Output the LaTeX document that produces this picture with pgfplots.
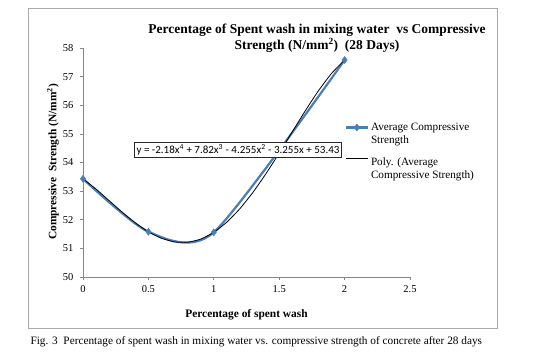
\documentclass[border=0pt]{standalone}
\usepackage{fontspec}
\setmainfont{Liberation Serif}
\newfontfamily\calibri{Carlito}
\usepackage{pgfplots}
\pgfplotsset{compat=1.18}
\definecolor{xlblue}{RGB}{74,126,187}
\definecolor{axgray}{RGB}{134,134,134}
\definecolor{framegray}{RGB}{170,170,170}
\begin{document}
\begin{tikzpicture}[x=1pt,y=1pt]
\path[use as bounding box] (0,0) rectangle (533,359);
\draw[framegray, line width=0.9pt] (28,31) rectangle (497,351);
\node[font=\bfseries\fontsize{13.5}{16}\selectfont, align=center] at (317,321)
  {Percentage of Spent wash in mixing water\ \ vs Compressive\\Strength (N/mm\textsuperscript{2})\ \ (28 Days)};
\node[anchor=west, font=\fontsize{11.3}{13}\selectfont] at (27,17)
  {Fig. 3\ \ Percentage of spent wash in mixing water vs. compressive strength of concrete after 28 days};
\begin{axis}[
  at={(83pt,82pt)}, anchor=south west, scale only axis,
  width=327pt, height=229pt,
  xmin=0, xmax=2.5, ymin=50, ymax=58,
  axis x line=bottom, axis y line=left,
  axis line style={-, axgray, line width=0.7pt},
  xtick={0,0.5,1,1.5,2,2.5}, ytick={50,51,52,53,54,55,56,57,58},
  tick align=outside, major tick length=3pt,
  tick style={axgray, line width=0.7pt},
  /pgf/number format/assume math mode=true,
  tick label style={font=\fontsize{10.5}{12}\selectfont},
  xticklabel style={yshift=-2pt},
  yticklabel style={xshift=-3pt},
  xlabel={Percentage of spent wash},
  ylabel={Compressive\ \ Strength (N/mm\textsuperscript{2})},
  xlabel style={font=\bfseries\fontsize{11.4}{13}\selectfont, at={(axis description cs:0.5,-0.166)}, anchor=center},
  ylabel style={font=\bfseries\fontsize{11.4}{13}\selectfont, at={(axis description cs:-0.092,0.502)}, anchor=center},
  legend style={draw=none, fill=none, at={(0.800,0.682)}, anchor=north west,
    font=\fontsize{11.2}{12.5}\selectfont, inner sep=0pt, row sep=0pt,
    cells={anchor=west}},
  legend image code/.code={\draw[mark repeat=2,mark phase=2,#1] plot coordinates {(0pt,0pt) (11pt,0pt) (22pt,0pt)};},
  clip=false,
]
\addplot[xlblue, line width=2.2pt, smooth, tension=0.42, mark=diamond*, mark size=3.5pt,
  mark options={fill=xlblue, draw=xlblue, line width=0.5pt}]
  coordinates {(0,53.43) (0.5,51.58) (1,51.56) (2,57.58)};
\addlegendentry{Average Compressive}
\addlegendimage{empty legend}
\addlegendentry{Strength}
\addplot[black, line width=0.8pt, smooth, tension=0.3] coordinates {
(0,53.43) (0.1,53.0696) (0.2,52.6679) (0.3,52.2640) (0.4,51.8919) (0.5,51.5800)
(0.6,51.3518) (0.7,51.2254) (0.8,51.2137) (0.9,51.3244) (1.0,51.5600)
(1.1,51.9176) (1.2,52.3893) (1.3,52.9618) (1.4,53.6166) (1.5,54.3300)
(1.6,55.0731) (1.7,55.8116) (1.8,56.5063) (1.9,57.1124) (2.0,57.5800)};
\addlegendentry{\rule{0pt}{16pt}Poly. (Average}
\addlegendimage{empty legend}
\addlegendentry{Compressive Strength)}
\node[draw=black!85, fill=white, line width=0.7pt, inner sep=2.2pt,
  font=\calibri\fontsize{11}{12}\selectfont] at (axis cs:1.185,54.44)
  {y = -2.18x\textsuperscript{4} + 7.82x\textsuperscript{3} - 4.255x\textsuperscript{2} - 3.255x + 53.43};
\end{axis}
\end{tikzpicture}
\end{document}
